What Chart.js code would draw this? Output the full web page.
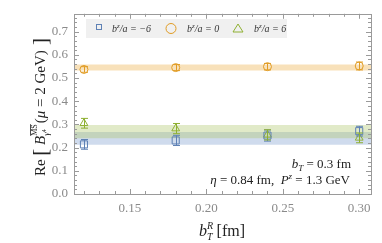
<!DOCTYPE html>
<html>
<head>
<meta charset="utf-8">
<script src="https://cdn.jsdelivr.net/npm/chart.js@4.4.1/dist/chart.umd.min.js"></script>
<style>
  html, body { margin: 0; padding: 0; background: #fff; }
  #wrap { width: 382px; height: 243px; }
</style>
</head>
<body>
<div id="wrap"><canvas id="mycanvas"></canvas></div>
<script>
// b_T^R values (fm)
var xVals = [0.12, 0.18, 0.24, 0.30];
// b^z/a = -6
var negVals = [0.214, 0.231, 0.252, 0.271];
var negErr = [0.021, 0.022, 0.024, 0.021];
// b^z/a = 0
var zeroVals = [0.537, 0.545, 0.549, 0.552];
var zeroErr = [0.012, 0.013, 0.014, 0.017];
// b^z/a = 6
var posVals = [0.305, 0.282, 0.255, 0.242];
var posErr = [0.021, 0.022, 0.022, 0.021];
// fitted bands [low, high]
var negBand = [0.212, 0.267];
var zeroBand = [0.533, 0.558];
var posBand = [0.240, 0.297];

var xMin = 0.1135, xMax = 0.3077;
var yMin = 0, yMax = 0.777;

var legendVals = ['\u22126', '0', '6'];

var blue = '#5E81B5', orange = '#E19C24', green = '#8FB032';
var serif = "'Liberation Serif', 'DejaVu Serif', serif";

function pts(vals) {
	var out = [];
	for (var i in xVals) out.push({x: xVals[i], y: vals[i]});
	return out;
}
function band(v, col, fill) {
	return {
		type: 'line',
		data: [{x: xMin, y: v}, {x: xMax, y: v}],
		borderWidth: 0,
		borderColor: 'rgba(0,0,0,0)',
		backgroundColor: col,
		pointRadius: 0,
		fill: fill,
		order: 5
	};
}
function series(vals, col, style, r) {
	return {
		type: 'scatter',
		data: pts(vals),
		borderColor: col,
		backgroundColor: 'rgba(255,255,255,0)',
		borderWidth: 1,
		pointStyle: style,
		pointRadius: r,
		order: 1
	};
}

var datasets = [
	band(zeroBand[1], 'rgba(242,200,130,0.55)', '+1'),
	band(zeroBand[0], 'rgba(0,0,0,0)', false),
	band(posBand[1], 'rgba(175,200,110,0.38)', '+1'),
	band(posBand[0], 'rgba(0,0,0,0)', false),
	band(negBand[1], 'rgba(110,145,200,0.33)', '+1'),
	band(negBand[0], 'rgba(0,0,0,0)', false),
	series(negVals, blue, 'rect', 5),
	series(zeroVals, orange, 'circle', 4),
	series(posVals, green, 'triangle', 4.5)
];
var errs = [[negVals, negErr, blue], [zeroVals, zeroErr, orange], [posVals, posErr, green]];

// draw rich text pieces in a row, returns width
function drawPieces(ctx, pieces, x0, y0, measureOnly) {
	var x = x0;
	for (var i = 0; i < pieces.length; i++) {
		var p = pieces[i];
		ctx.font = p.f;
		var w = ctx.measureText(p.t).width;
		if (!measureOnly) {
			ctx.fillText(p.t, x + (p.dx || 0), y0 + (p.dy || 0));
			if (p.over) {
				ctx.fillRect(x + (p.dx || 0), y0 + (p.dy || 0) - p.over, w, 0.8);
			}
		}
		x += (p.adv !== undefined ? p.adv : w) + (p.dx || 0);
	}
	return x - x0;
}

var extras = {
	id: 'extras',
	afterDatasetsDraw: function(chart) {
		var ctx = chart.ctx, xs = chart.scales.x, ys = chart.scales.y;
		var a = chart.chartArea;
		ctx.save();
		// error bars
		ctx.lineWidth = 1;
		for (var k = 0; k < errs.length; k++) {
			ctx.strokeStyle = errs[k][2];
			for (var i = 0; i < xVals.length; i++) {
				var px = Math.round(xs.getPixelForValue(xVals[i])) + 0.5;
				var y1 = ys.getPixelForValue(errs[k][0][i] + errs[k][1][i]);
				var y2 = ys.getPixelForValue(errs[k][0][i] - errs[k][1][i]);
				ctx.beginPath();
				ctx.moveTo(px, y1); ctx.lineTo(px, y2);
				ctx.moveTo(px - 3.5, y1); ctx.lineTo(px + 3.5, y1);
				ctx.moveTo(px - 3.5, y2); ctx.lineTo(px + 3.5, y2);
				ctx.stroke();
			}
		}
		// frame + ticks
		ctx.strokeStyle = '#9a9a9a';
		ctx.lineWidth = 1;
		ctx.strokeRect(Math.round(a.left) + 0.5, Math.round(a.top) + 0.5, Math.round(a.right - a.left), Math.round(a.bottom - a.top));
		ctx.beginPath();
		for (var t = 11; t <= 30; t++) {
			var v = t / 100;
			if (v < xMin || v > xMax) continue;
			var len = (t % 5 === 0) ? 5 : 3;
			var p = Math.round(xs.getPixelForValue(v)) + 0.5;
			ctx.moveTo(p, a.bottom); ctx.lineTo(p, a.bottom - len);
			ctx.moveTo(p, a.top); ctx.lineTo(p, a.top + len);
		}
		for (var t = 0; t <= 38; t++) {
			var v = t / 50;
			var len = (t % 5 === 0) ? 5 : 3;
			var p = Math.round(ys.getPixelForValue(v)) + 0.5;
			ctx.moveTo(a.left, p); ctx.lineTo(a.left + len, p);
			ctx.moveTo(a.right, p); ctx.lineTo(a.right - len, p);
		}
		ctx.stroke();

		// legend
		ctx.fillStyle = '#f0f0f0';
		ctx.fillRect(86, 19, 201, 19);
		var tx = [112, 187, 254];
		ctx.lineWidth = 1;
		ctx.strokeStyle = blue;
		ctx.strokeRect(96.5, 24.5, 5, 5);
		ctx.strokeStyle = orange;
		ctx.beginPath(); ctx.arc(171, 28.5, 5, 0, Math.PI * 2); ctx.stroke();
		ctx.strokeStyle = green;
		ctx.beginPath(); ctx.moveTo(238, 24); ctx.lineTo(243, 32); ctx.lineTo(233, 32); ctx.closePath(); ctx.stroke();
		ctx.fillStyle = '#333';
		ctx.textBaseline = 'alphabetic';
		ctx.textAlign = 'left';
		for (var i = 0; i < 3; i++) {
			drawPieces(ctx, [
				{t: 'b', f: 'italic 10px ' + serif},
				{t: 'z', f: 'italic 7px ' + serif, dy: -4},
				{t: '/a = ' + legendVals[i], f: 'italic 10px ' + serif}
			], tx[i], 32);
		}

		// annotation
		ctx.fillStyle = '#222';
		var l1 = [
			{t: 'b', f: 'italic 13px ' + serif},
			{t: 'T', f: 'italic 9px ' + serif, dy: 3},
			{t: ' = 0.3 fm', f: '13px ' + serif}
		];
		var w1 = drawPieces(ctx, l1, 0, 0, true);
		drawPieces(ctx, l1, 351 - w1, 168);
		var l2 = [
			{t: '\u03B7', f: 'italic 13px ' + serif},
			{t: ' = 0.84 fm,  ', f: '13px ' + serif},
			{t: 'P', f: 'italic 13px ' + serif},
			{t: 'z', f: 'italic 9px ' + serif, dy: -5},
			{t: ' = 1.3 GeV', f: '13px ' + serif}
		];
		var w2 = drawPieces(ctx, l2, 0, 0, true);
		drawPieces(ctx, l2, 350 - w2, 184);

		// x title
		var xt = [
			{t: 'b', f: 'italic 16px ' + serif, adv: 8},
			{t: 'R', f: 'italic 10px ' + serif, dy: -7, adv: 0},
			{t: 'T', f: 'italic 10px ' + serif, dy: 4},
			{t: ' [fm]', f: '16px ' + serif}
		];
		var wx = drawPieces(ctx, xt, 0, 0, true);
		drawPieces(ctx, xt, 222 - wx / 2, 236);

		// y title (rotated)
		var yt = [
			{t: 'Re ', f: '15px ' + serif},
			{t: '[', f: '21px ' + serif, dy: 2},
			{t: ' B', f: 'italic 15px ' + serif},
			{t: 'MS', f: '8px ' + serif, dy: -8, over: 7, adv: 0},
			{t: '\u03B3', f: 'italic 9px ' + serif, dy: 4},
			{t: '4', f: '6px ' + serif, dy: 1, adv: 9},
			{t: '(', f: '15px ' + serif},
			{t: '\u03BC', f: 'italic 15px ' + serif},
			{t: ' = 2 GeV)', f: '15px ' + serif},
			{t: ' ]', f: '21px ' + serif, dy: 2}
		];
		var wy = drawPieces(ctx, yt, 0, 0, true);
		ctx.translate(45, 107);
		ctx.rotate(-Math.PI / 2);
		drawPieces(ctx, yt, -wy / 2, 0);
		ctx.restore();
	}
};

var ctx = document.getElementById('mycanvas');
var chart = new Chart(ctx, {
	type: 'scatter',
	data: { datasets: datasets },
	options: {
		responsive: true,
		maintainAspectRatio: false,
		animation: false,
		layout: { padding: { top: 11, right: 11, left: 0, bottom: 0 } },
		plugins: { legend: { display: false }, tooltip: { enabled: false } },
		scales: {
			x: {
				type: 'linear', min: xMin, max: xMax,
				grid: { display: false, drawTicks: false },
				border: { display: false },
				ticks: {
					stepSize: 0.05, includeBounds: false, padding: 7,
					color: '#8a8a8a', font: { family: serif, size: 13 },
					callback: function(v) { return v.toFixed(2); }
				},
				afterFit: function(s) { s.height = 49; }
			},
			y: {
				type: 'linear', min: yMin, max: yMax,
				grid: { display: false, drawTicks: false },
				border: { display: false },
				ticks: {
					stepSize: 0.1, includeBounds: false, padding: 6,
					color: '#8a8a8a', font: { family: serif, size: 13 },
					callback: function(v) { return v.toFixed(1); }
				},
				afterFit: function(s) { s.width = 74; }
			}
		}
	},
	plugins: [extras]
});
</script>
</body>
</html>
